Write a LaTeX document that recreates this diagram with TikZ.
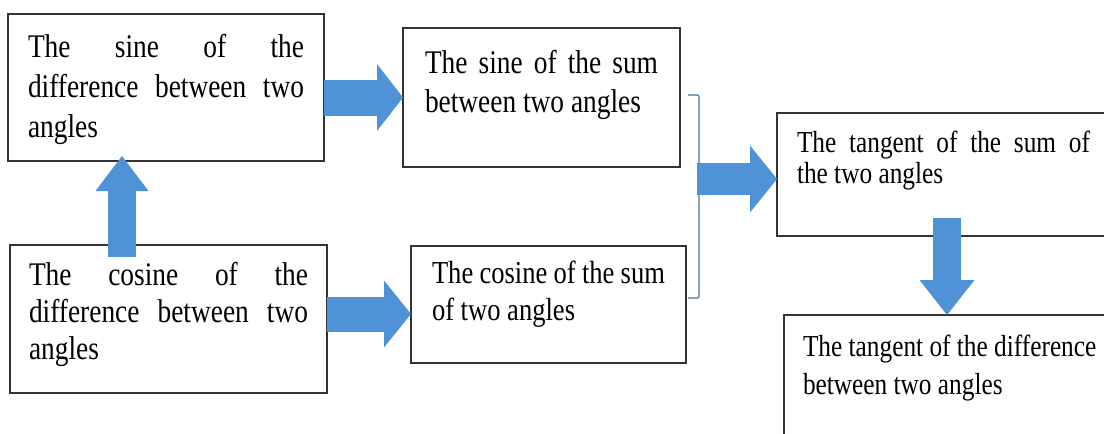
\documentclass[tikz,border=0pt]{standalone}
\usepackage{fontspec}
\setmainfont[FakeStretch=0.83]{Liberation Serif}
\usetikzlibrary{arrows.meta,calc}
\definecolor{ablue}{RGB}{80,146,214}
\definecolor{bline}{RGB}{65,113,156}
\newcommand{\bt}[3]{\parbox[t][#1pt][t]{#2pt}{#3}}
\tikzset{
  bx/.style args={#1/#2}{draw=black!80,line width=1.4pt,anchor=north west,outer sep=0pt,inner xsep=#1pt,inner ysep=#2pt},
  fat/.style args={#1/#2/#3}{draw=ablue,line width=#1pt,-{Triangle[length=#2pt,width=#3pt,line width=0pt,fill=ablue]}},
  brk/.style={draw=bline,line width=1.2pt,rounded corners=2pt},
}
\begin{document}
\begin{tikzpicture}[x=1pt,y=-1pt]
\useasboundingbox (0,0) rectangle (1104,434); \clip (0,0) rectangle (1104,434);
\node[bx=20/20,font=\fontsize{33}{40}\selectfont] (A) at (8,14){\bt{107}{276}{The sine of the\linebreak difference between two\linebreak angles}};
\node[bx=22/22,font=\fontsize{33}{39}\selectfont] (B) at (403,28){\bt{95}{233}{The sine of the sum\linebreak between two angles}};
\node[bx=19/17,font=\fontsize{33}{37}\selectfont] (C) at (10,245){\bt{114}{279}{The cosine of the\linebreak difference between two\linebreak angles}};
\node[bx=21/15,font=\fontsize{32}{37}\selectfont] (D) at (411,246){\bt{87}{233}{The cosine of the sum\linebreak of two angles}};
\node[bx=20/18,font=\fontsize{30.5}{31}\selectfont] (E) at (777,113){\bt{87}{293}{The tangent of the sum of\linebreak the two angles}};
\node[bx=19/20,font=\fontsize{30.5}{38}\selectfont] (F) at (784,315){\bt{100}{300}{The tangent of the difference\newline between two angles}};
% bracket joining the two sums
\coordinate (brt) at (688,95); \coordinate (brb) at (688,298); \coordinate (bm) at (697,179);
\draw[brk] (brt) -- ++(11,0) -- ($(brb)+(11,0)$) -- (brb);
% block arrows
\coordinate (up) at ([xshift=112pt]C.north west); \coordinate (dn) at ([xshift=170pt]E.south west);
\draw[fat=36/26/67] (A.east |- B.west) -- (B.west);
\draw[fat=35/27/67] ([yshift=5pt]C.east) -- ([yshift=5pt]C.east -| D.west);
\draw[fat=28/35/53] ($(up)+(0,12)$) -- ($(up |- A.south)+(0,-5)$);
\draw[fat=32/27/67] (bm) -- (bm -| E.west);
\draw[fat=28/35/55] ($(dn)+(0,-18)$) -- (dn |- F.north);
\end{tikzpicture}
\end{document}
